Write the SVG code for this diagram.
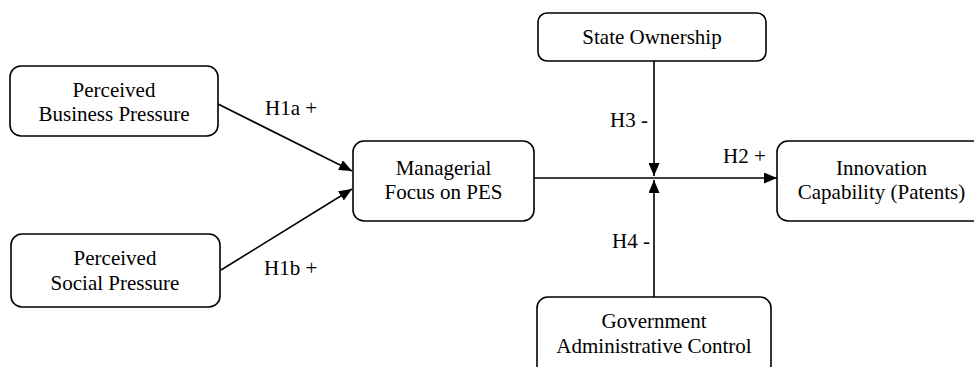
<svg xmlns="http://www.w3.org/2000/svg" width="974" height="367" viewBox="0 0 974 367" font-family="'Liberation Serif', serif">
<style>
.box{fill:#fff;stroke:#000;stroke-width:1.6}
text{font-family:'Liberation Serif',serif;font-size:21px;fill:#000}
.c{text-anchor:middle}
.ln{stroke:#000;stroke-width:1.6;fill:none}
</style>
<defs>
<marker id="ah" viewBox="0 0 13 11" refX="13" refY="5.5" markerWidth="13" markerHeight="11" markerUnits="userSpaceOnUse" orient="auto">
<path d="M0,0 L13,5.5 L0,11 Z" fill="#000"/>
</marker>
</defs>
<rect width="974" height="367" fill="#fff"/>
<g id="connectors">
<line class="ln" x1="218" y1="104" x2="352" y2="171" marker-end="url(#ah)"/>
<line class="ln" x1="221" y1="270" x2="352" y2="189" marker-end="url(#ah)"/>
<line class="ln" x1="534" y1="178" x2="777" y2="178" marker-end="url(#ah)"/>
<line class="ln" x1="654" y1="61" x2="654" y2="176" marker-end="url(#ah)"/>
<line class="ln" x1="654" y1="297" x2="654" y2="180" marker-end="url(#ah)"/>
<text x="265" y="115">H1a +</text>
<text x="264" y="275">H1b +</text>
<text x="610" y="127">H3 -</text>
<text x="612" y="248">H4 -</text>
<text x="723" y="163">H2 +</text>
</g>
<g id="business">
<rect class="box" x="10" y="66" width="208" height="70" rx="11"/>
<text class="c" x="114" y="97">Perceived</text>
<text class="c" x="114" y="121">Business Pressure</text>
</g>
<g id="social">
<rect class="box" x="11" y="234" width="209" height="73" rx="11"/>
<text class="c" x="115" y="265">Perceived</text>
<text class="c" x="115" y="290">Social Pressure</text>
</g>
<g id="managerial">
<rect class="box" x="353" y="141" width="181" height="80" rx="11"/>
<text class="c" x="443.5" y="175">Managerial</text>
<text class="c" x="443.5" y="199">Focus on PES</text>
</g>
<g id="state">
<rect class="box" x="538" y="13" width="228" height="48" rx="9"/>
<text class="c" x="652" y="44">State Ownership</text>
</g>
<g id="government">
<rect class="box" x="537" y="297" width="234" height="80" rx="11"/>
<text class="c" x="654" y="328">Government</text>
<text class="c" x="654" y="353">Administrative Control</text>
</g>
<g id="innovation">
<rect class="box" x="777" y="141" width="210" height="80" rx="11"/>
<text class="c" x="881.5" y="175">Innovation</text>
<text class="c" x="881.5" y="199">Capability (Patents)</text>
</g>
</svg>
